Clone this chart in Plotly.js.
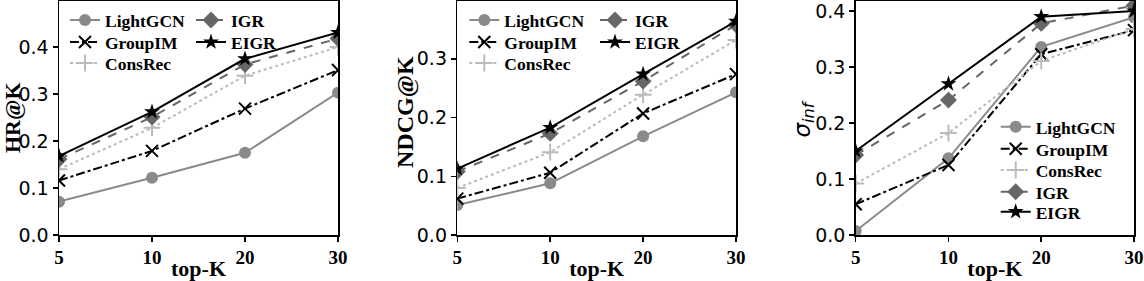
<!DOCTYPE html>
<html>
<head>
<meta charset="utf-8">
<script src="https://cdn.plot.ly/plotly-3.0.1.min.js"></script>
<style>html,body{margin:0;padding:0;background:#fff;}#chart{width:1144px;height:281px;}</style>
</head>
<body>
<div id="chart"></div>
<script>
// ---- data ----
const topK = ['5', '10', '20', '30'];
const methods = ['LightGCN', 'GroupIM', 'ConsRec', 'IGR', 'EIGR'];
const yTitles = ['HR@K', 'NDCG@K', '<i>σ</i><sub><i>inf</i></sub>'];
const xTitle = 'top-K';

const hrLightGCN = [0.071, 0.122, 0.175, 0.303];
const hrGroupIM  = [0.116, 0.179, 0.269, 0.351];
const hrConsRec  = [0.140, 0.228, 0.339, 0.400];
const hrIGR      = [0.161, 0.251, 0.363, 0.418];
const hrEIGR     = [0.168, 0.262, 0.375, 0.431];

const ndcgLightGCN = [0.051, 0.088, 0.168, 0.243];
const ndcgGroupIM  = [0.062, 0.106, 0.207, 0.274];
const ndcgConsRec  = [0.080, 0.141, 0.239, 0.332];
const ndcgIGR      = [0.108, 0.173, 0.262, 0.358];
const ndcgEIGR     = [0.113, 0.183, 0.274, 0.364];

const sigLightGCN = [0.007, 0.137, 0.336, 0.389];
const sigGroupIM  = [0.055, 0.125, 0.323, 0.366];
const sigConsRec  = [0.092, 0.182, 0.311, 0.368];
const sigIGR      = [0.143, 0.241, 0.378, 0.410];
const sigEIGR     = [0.150, 0.270, 0.390, 0.400];

// ---- styles ----
const styles = {
  LightGCN: {line: {color: '#8a8a8a', width: 2, dash: 'solid'},
             marker: {symbol: 'circle', size: 12, color: '#8a8a8a', line: {width: 0}}},
  GroupIM:  {line: {color: '#000000', width: 2, dash: 'dashdot'},
             marker: {symbol: 'x-thin-open', size: 12, color: '#000000', line: {color: '#000000', width: 2}}},
  ConsRec:  {line: {color: '#bbbbbb', width: 2, dash: 'dot'},
             marker: {symbol: 'cross-thin-open', size: 12, color: '#bbbbbb', line: {color: '#bbbbbb', width: 2}}},
  IGR:      {line: {color: '#666666', width: 2, dash: 'dash'},
             marker: {symbol: 'diamond', size: 13, color: '#666666', line: {width: 0}}},
  EIGR:     {line: {color: '#000000', width: 2, dash: 'solid'},
             marker: {symbol: 'star', size: 12, color: '#000000', line: {width: 0}}}
};

// legend entry positions (left of line sample, vertical centre of entry), in px
const legendPos = [
  [[65, 20], [65, 42], [65, 63], [191, 20], [191, 42]],
  [[464.3, 20], [464.3, 42], [464.3, 63], [595, 20], [595, 42]],
  [[995.7, 126.7], [995.7, 148.7], [995.7, 170], [995.7, 191.7], [995.7, 211.7]]
];

const panels = [
  {xa: 'x',  ya: 'y',  data: [hrLightGCN, hrGroupIM, hrConsRec, hrIGR, hrEIGR]},
  {xa: 'x2', ya: 'y2', data: [ndcgLightGCN, ndcgGroupIM, ndcgConsRec, ndcgIGR, ndcgEIGR]},
  {xa: 'x3', ya: 'y3', data: [sigLightGCN, sigGroupIM, sigConsRec, sigIGR, sigEIGR]}
];

const W = 1144, ML = 59, MR = 10, MT = 1, MB = 46;
const PW = W - ML - MR, PH = 281 - MT - MB;
const px = v => (v - ML) / PW;
const py = v => (281 - MB - v) / PH;

const serifBold = {family: 'Liberation Serif, Times New Roman, serif', weight: 'bold', color: '#000'};
const LFS = 17.5;
const itemH = LFS * 1.3 + 3;

const traces = [];
const legends = {};
let n = 0;
panels.forEach((p, pi) => {
  methods.forEach((m, i) => {
    n += 1;
    const key = n === 1 ? 'legend' : 'legend' + n;
    const pos = legendPos[pi][i];
    legends[key] = {
      x: px(pos[0]), y: py(pos[1] - itemH / 2 - 5), xanchor: 'left', yanchor: 'top',
      bgcolor: 'rgba(0,0,0,0)', borderwidth: 0, itemwidth: 30,
      font: Object.assign({size: LFS}, serifBold)
    };
    traces.push({
      type: 'scatter', mode: 'lines+markers',
      x: topK, y: p.data[i], xaxis: p.xa, yaxis: p.ya,
      name: m, legend: key,
      line: styles[m].line, marker: styles[m].marker,
      cliponaxis: true
    });
  });
});

function xaxis(d0, d1, anchor) {
  return {
    anchor: anchor, domain: [px(d0), px(d1)], type: 'category', range: [0, 3],
    showline: true, mirror: true, linecolor: '#000', linewidth: 1.5,
    ticks: 'outside', ticklen: 5, tickwidth: 1.5, tickcolor: '#000',
    showgrid: false, zeroline: false,
    tickfont: Object.assign({size: 19}, serifBold),
    title: {text: xTitle, font: Object.assign({size: 22}, serifBold), standoff: 2}
  };
}
function yaxis(anchor, r) {
  return {
    anchor: anchor, domain: [0, 1], range: r, dtick: 0.1, tickformat: '.1f',
    showline: true, mirror: true, linecolor: '#000', linewidth: 1.5,
    ticks: 'outside', ticklen: 5, tickwidth: 1.5, tickcolor: '#000',
    showgrid: false, zeroline: false, ticklabeloverflow: 'allow',
    tickfont: {family: 'DejaVu Sans, sans-serif', size: 19, color: '#000'}
  };
}

// y-axis titles drawn as rotated text next to each axis
const yTitlePos = [[12.5, 117.5], [405, 112], [803, 118.5]];
const yTitleFonts = [
  Object.assign({size: 22}, serifBold),
  Object.assign({size: 24}, serifBold),
  {family: 'DejaVu Sans, sans-serif', size: 23, color: '#000'}
];
const annotations = yTitles.map((t, i) => ({
  text: t, xref: 'paper', yref: 'paper',
  x: px(yTitlePos[i][0]), y: py(yTitlePos[i][1]),
  xanchor: 'center', yanchor: 'middle', textangle: -90, showarrow: false,
  borderpad: 0, font: yTitleFonts[i]
}));

const layout = Object.assign({
  width: 1144, height: 281,
  margin: {l: ML, r: MR, t: MT, b: MB, pad: 0},
  paper_bgcolor: '#fff', plot_bgcolor: '#fff',
  showlegend: true,
  xaxis: xaxis(59, 338, 'y'),
  xaxis2: xaxis(457.3, 736, 'y2'),
  xaxis3: xaxis(855.7, 1134, 'y3'),
  yaxis: yaxis('x', [0, 0.498]),
  yaxis2: yaxis('x2', [0, 0.3985]),
  yaxis3: yaxis('x3', [0, 0.418]),
  annotations: annotations
}, legends);

Plotly.newPlot('chart', traces, layout, {staticPlot: true, displayModeBar: false});
</script>
</body>
</html>
